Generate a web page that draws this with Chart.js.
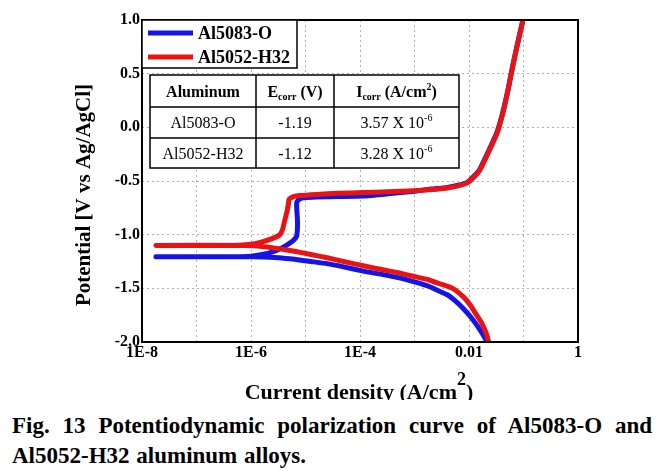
<!DOCTYPE html>
<html><head><meta charset="utf-8">
<script src="https://cdn.jsdelivr.net/npm/chart.js@4.4.1/dist/chart.umd.min.js"></script>
<style>
html,body{margin:0;padding:0;background:#fff;width:672px;height:471px;overflow:hidden;}
#wrap{position:absolute;left:0;top:0;width:672px;height:400px;}
.cap{position:absolute;left:12px;width:640px;font:bold 23px/23px 'Liberation Serif','Times New Roman',serif;color:#000;white-space:nowrap;}
#cap1{top:414px;text-align:justify;text-align-last:justify;white-space:normal;}
#cap2{top:444px;word-spacing:1px;}
</style></head><body>
<div id="wrap"><canvas id="c"></canvas></div>
<div class="cap" id="cap1">Fig. 13 Potentiodynamic polarization curve of Al5083-O and</div>
<div class="cap" id="cap2">Al5052-H32 aluminum alloys.</div>
<script>
// ---- data ----
const seriesNames = ['Al5083-O', 'Al5052-H32'];
const seriesColors = ['#1414e6', '#e81414'];

// Al5083-O : scan from -2.0 V (cathodic) up to +1.0 V (anodic)
const al5083Current = [
  0.0214, 0.0195, 0.0170, 0.0138, 0.0105, 0.0076, 0.0054, 0.0040, 0.0028, 0.0018,
  1.0e-3, 5.0e-4, 2.5e-4, 1.15e-4, 5.0e-5, 2.5e-5, 1.26e-5, 6.3e-6, 3.2e-6, 1.6e-6,
  7.9e-7, 1.8e-8,
  1.8e-8, 5.0e-7, 1.0e-6, 1.6e-6, 2.5e-6, 3.5e-6, 4.6e-6, 5.8e-6, 6.8e-6, 7.1e-6,
  7.1e-6, 6.9e-6, 6.9e-6, 7.6e-6, 1.0e-5, 1.6e-5, 4.0e-5, 1.15e-4, 3.2e-4, 1.0e-3,
  2.0e-3, 4.0e-3, 6.3e-3, 9.1e-3, 0.0120, 0.0158, 0.0224, 0.0324, 0.0417, 0.0525,
  0.0646, 0.0794, 0.0977
];
const al5083Potential = [
  -2.00, -1.96, -1.91, -1.84, -1.76, -1.68, -1.61, -1.56, -1.525, -1.48,
  -1.44, -1.40, -1.37, -1.34, -1.30, -1.27, -1.25, -1.23, -1.215, -1.207,
  -1.205, -1.205,
  -1.205, -1.205, -1.20, -1.185, -1.16, -1.13, -1.095, -1.06, -1.02, -0.95,
  -0.85, -0.76, -0.70, -0.67, -0.655, -0.65, -0.645, -0.64, -0.62, -0.595,
  -0.575, -0.56, -0.54, -0.515, -0.46, -0.39, -0.23, -0.05, 0.14, 0.36,
  0.59, 0.80, 1.00
];

// Al5052-H32
const al5052Current = [
  0.0229, 0.0219, 0.0200, 0.0170, 0.0138, 0.0107, 0.0079, 0.0050, 0.0028, 0.0018,
  1.0e-3, 5.0e-4, 2.5e-4, 1.15e-4, 5.0e-5, 2.5e-5, 1.26e-5, 6.3e-6, 3.2e-6, 1.6e-6,
  7.9e-7, 1.8e-8,
  1.8e-8, 5.0e-7, 1.0e-6, 1.66e-6, 2.5e-6, 3.4e-6, 3.8e-6, 4.1e-6, 4.6e-6, 4.9e-6,
  5.0e-6, 6.0e-6, 7.9e-6, 1.6e-5, 4.0e-5, 1.15e-4, 3.2e-4, 1.0e-3, 2.0e-3, 4.0e-3,
  6.3e-3, 9.1e-3, 0.0120, 0.0158, 0.0224, 0.0324, 0.0417, 0.0525, 0.0646, 0.0794,
  0.0977
];
const al5052Potential = [
  -2.00, -1.96, -1.90, -1.82, -1.75, -1.66, -1.58, -1.50, -1.455, -1.42,
  -1.39, -1.355, -1.325, -1.29, -1.25, -1.215, -1.185, -1.155, -1.13, -1.11,
  -1.10, -1.10,
  -1.10, -1.10, -1.09, -1.065, -1.035, -1.00, -0.95, -0.88, -0.78, -0.70,
  -0.67, -0.645, -0.635, -0.625, -0.615, -0.608, -0.60, -0.59, -0.58, -0.565,
  -0.545, -0.52, -0.47, -0.40, -0.24, -0.06, 0.13, 0.36, 0.59, 0.80,
  1.00
];

const xTickValues = [1e-8, 1e-7, 1e-6, 1e-5, 1e-4, 1e-3, 1e-2, 1e-1, 1];
const xTickLabels = ['1E-8', '', '1E-6', '', '1E-4', '', '0.01', '', '1'];
const yMin = -2.0, yMax = 1.0, yStep = 0.5;

const tableAlloys = ['Al5083-O', 'Al5052-H32'];
const tableEcorr = ['-1.19', '-1.12'];
const tableIcorr = ['3.57', '3.28'];
const tableIcorrExp = '-6';

// ---- chart ----
const SERIF = "'Liberation Serif','Times New Roman',serif";
const pts = (xs, ys) => xs.map((x, i) => ({x: x, y: ys[i]}));

function rich(ctx, segs, cx, base) {
  let w = 0;
  segs.forEach(s => { ctx.font = s.f; s.w = ctx.measureText(s.t).width; w += s.w; });
  let x = cx - w / 2;
  segs.forEach(s => { ctx.font = s.f; ctx.fillText(s.t, x, base + (s.dy || 0)); x += s.w; });
}

const overlay = {
  id: 'overlay',
  afterDraw(chart) {
    const ctx = chart.ctx, a = chart.chartArea;
    ctx.save();
    // plot frame
    ctx.strokeStyle = '#000'; ctx.lineWidth = 2;
    ctx.strokeRect(a.left, a.top, a.right - a.left, a.bottom - a.top);

    // legend box
    const lx = a.left, ly = a.top, lw = 155, lh = 48;
    ctx.fillStyle = '#fff'; ctx.fillRect(lx, ly, lw, lh);
    ctx.lineWidth = 1.5; ctx.strokeStyle = '#000'; ctx.strokeRect(lx, ly, lw, lh);
    seriesNames.forEach((n, i) => {
      const yy = ly + 13 + i * 24;
      ctx.strokeStyle = seriesColors[i]; ctx.lineWidth = 5; ctx.lineCap = 'butt';
      ctx.beginPath(); ctx.moveTo(lx + 6, yy); ctx.lineTo(lx + 51, yy); ctx.stroke();
      ctx.fillStyle = '#000'; ctx.font = 'bold 18px ' + SERIF;
      ctx.textAlign = 'left'; ctx.textBaseline = 'middle';
      ctx.fillText(n, lx + 56, yy + 1);
    });

    // table
    const cols = [150, 256, 334, 459], rows = [75, 107, 138, 168];
    ctx.fillStyle = '#fff';
    ctx.fillRect(cols[0], rows[0], cols[3] - cols[0], rows[3] - rows[0]);
    ctx.strokeStyle = '#000'; ctx.lineWidth = 1.5;
    ctx.strokeRect(cols[0], rows[0], cols[3] - cols[0], rows[3] - rows[0]);
    ctx.beginPath();
    [1, 2].forEach(i => { ctx.moveTo(cols[i], rows[0]); ctx.lineTo(cols[i], rows[3]); });
    [1, 2].forEach(i => { ctx.moveTo(cols[0], rows[i]); ctx.lineTo(cols[3], rows[i]); });
    ctx.stroke();
    ctx.fillStyle = '#000'; ctx.textAlign = 'left'; ctx.textBaseline = 'alphabetic';
    const cc = i => (cols[i] + cols[i + 1]) / 2;
    const rb = r => (rows[r] + rows[r + 1]) / 2 + 5.5;
    const B = 'bold 16px ' + SERIF, Bs = 'bold 10px ' + SERIF, R = '16px ' + SERIF, Rs = '10px ' + SERIF;
    rich(ctx, [{t: 'Aluminum', f: B}], cc(0), rb(0));
    rich(ctx, [{t: 'E', f: B}, {t: 'corr', f: Bs, dy: 3}, {t: ' (V)', f: B}], cc(1), rb(0));
    rich(ctx, [{t: 'I', f: B}, {t: 'corr', f: Bs, dy: 3}, {t: ' (A/cm', f: B}, {t: '2', f: Bs, dy: -7}, {t: ')', f: B}], cc(2), rb(0));
    tableAlloys.forEach((al, k) => {
      rich(ctx, [{t: al, f: R}], cc(0), rb(k + 1));
      rich(ctx, [{t: tableEcorr[k], f: R}], cc(1), rb(k + 1));
      rich(ctx, [{t: tableIcorr[k] + ' X 10', f: R}, {t: tableIcorrExp, f: Rs, dy: -7}], cc(2), rb(k + 1));
    });

    // axis titles
    ctx.save();
    ctx.translate(85, 195); ctx.rotate(-Math.PI / 2);
    ctx.textAlign = 'center'; ctx.textBaseline = 'middle';
    ctx.font = 'bold 21px ' + SERIF;
    ctx.fillText('Potential [V vs Ag/AgCl]', 0, 0);
    ctx.restore();
    ctx.textAlign = 'left'; ctx.textBaseline = 'alphabetic';
    rich(ctx, [{t: 'Current density (A/cm', f: 'bold 22px ' + SERIF},
               {t: '2', f: 'bold 18px ' + SERIF, dy: -14},
               {t: ')', f: 'bold 22px ' + SERIF}], 359, 399);
    ctx.restore();
  }
};

new Chart(document.getElementById('c'), {
  type: 'scatter',
  data: {
    datasets: [
      {label: seriesNames[0], data: pts(al5083Current, al5083Potential), order: 2,
       borderColor: seriesColors[0], backgroundColor: seriesColors[0]},
      {label: seriesNames[1], data: pts(al5052Current, al5052Potential), order: 1,
       borderColor: seriesColors[1], backgroundColor: seriesColors[1]}
    ].map(d => Object.assign(d, {showLine: true, pointRadius: 0, borderWidth: 5, fill: false, tension: 0.15, borderJoinStyle: 'round', borderCapStyle: 'round'}))
  },
  options: {
    responsive: true, maintainAspectRatio: false, animation: false, devicePixelRatio: 1,
    layout: {padding: {top: 20, right: 94, bottom: 0, left: 0}},
    plugins: {legend: {display: false}, tooltip: {enabled: false}},
    scales: {
      x: {
        type: 'logarithmic', min: xTickValues[0], max: xTickValues[xTickValues.length - 1],
        afterBuildTicks: s => { s.ticks = xTickValues.map(v => ({value: v})); },
        afterFit: s => { s.height = 58; },
        ticks: {autoSkip: false, maxRotation: 0, minRotation: 0, padding: 1, color: '#000',
                font: {family: SERIF, size: 16, weight: 'bold'},
                callback: (v, i) => xTickLabels[i]},
        grid: {color: '#b0b0b0', lineWidth: 1, drawTicks: false},
        border: {display: false, dash: [2, 3]}
      },
      y: {
        min: yMin, max: yMax,
        afterFit: s => { s.width = 142; },
        ticks: {stepSize: yStep, padding: 2, color: '#000',
                font: {family: SERIF, size: 16, weight: 'bold'},
                callback: v => Number(v).toFixed(1)},
        grid: {color: '#b0b0b0', lineWidth: 1, drawTicks: false},
        border: {display: false, dash: [2, 3]}
      }
    }
  },
  plugins: [overlay]
});
</script></body></html>
